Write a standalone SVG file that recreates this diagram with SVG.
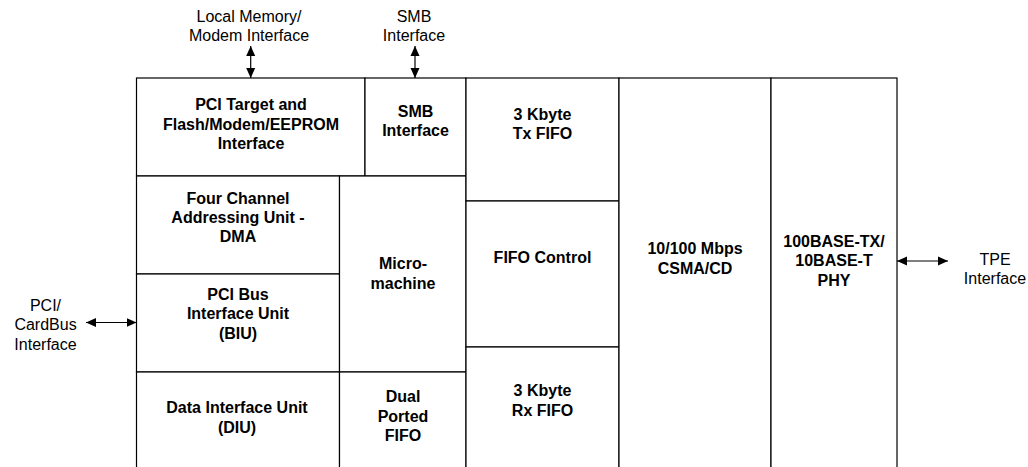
<svg xmlns="http://www.w3.org/2000/svg" width="1028" height="467" viewBox="0 0 1028 467">
<style>
.box{fill:#fff;stroke:#000;stroke-width:1.2}
.b{font-family:"Liberation Sans",Arial,sans-serif;font-size:16px;font-weight:bold;text-anchor:middle;fill:#000}
.r{font-family:"Liberation Sans",Arial,sans-serif;font-size:16px;text-anchor:middle;fill:#000}
.c{stroke:#000;stroke-width:1.2;fill:none;marker-start:url(#ah);marker-end:url(#ah)}
</style>
<defs>
<marker id="ah" viewBox="0 0 10 10" refX="10" refY="5" markerWidth="10" markerHeight="10" markerUnits="userSpaceOnUse" orient="auto-start-reverse">
<path d="M0,0.5 L10,5 L0,9.5 z" fill="#000"/>
</marker>
</defs>
<rect width="1028" height="467" fill="#fff"/>

<g id="pci-target">
<rect class="box" x="136.5" y="78" width="228.5" height="98"/>
<text class="b" x="251" y="110">PCI Target and</text>
<text class="b" x="251" y="129.5">Flash/Modem/EEPROM</text>
<text class="b" x="251" y="149">Interface</text>
</g>
<g id="smb">
<rect class="box" x="365" y="78" width="101" height="98"/>
<text class="b" x="415.5" y="116.5">SMB</text>
<text class="b" x="415.5" y="135.5">Interface</text>
</g>
<g id="dma">
<rect class="box" x="136.5" y="176" width="203" height="98"/>
<text class="b" x="238" y="203.5">Four Channel</text>
<text class="b" x="238" y="222.5">Addressing Unit -</text>
<text class="b" x="238" y="241.5">DMA</text>
</g>
<g id="biu">
<rect class="box" x="136.5" y="274" width="203" height="98"/>
<text class="b" x="238" y="300">PCI Bus</text>
<text class="b" x="238" y="319.3">Interface Unit</text>
<text class="b" x="238" y="338.5">(BIU)</text>
</g>
<g id="diu">
<rect class="box" x="136.5" y="372" width="203" height="110"/>
<text class="b" x="237" y="413.3">Data Interface Unit</text>
<text class="b" x="237" y="433">(DIU)</text>
</g>
<g id="micromachine">
<rect class="box" x="339.5" y="176" width="126.5" height="196"/>
<text class="b" x="403" y="269">Micro-</text>
<text class="b" x="403" y="288.5">machine</text>
</g>
<g id="dual-fifo">
<rect class="box" x="339.5" y="372" width="126.5" height="110"/>
<text class="b" x="403" y="402.3">Dual</text>
<text class="b" x="403" y="421.7">Ported</text>
<text class="b" x="403" y="441">FIFO</text>
</g>
<g id="tx-fifo">
<rect class="box" x="466" y="78" width="153" height="123"/>
<text class="b" x="542.5" y="120">3 Kbyte</text>
<text class="b" x="542.5" y="139">Tx FIFO</text>
</g>
<g id="fifo-control">
<rect class="box" x="466" y="201" width="153" height="146"/>
<text class="b" x="542.5" y="263.3">FIFO Control</text>
</g>
<g id="rx-fifo">
<rect class="box" x="466" y="347" width="153" height="135"/>
<text class="b" x="542.5" y="396">3 Kbyte</text>
<text class="b" x="542.5" y="415.7">Rx FIFO</text>
</g>
<g id="csma">
<rect class="box" x="619" y="78" width="152" height="404"/>
<text class="b" x="695" y="254.3">10/100 Mbps</text>
<text class="b" x="695" y="274">CSMA/CD</text>
</g>
<g id="phy">
<rect class="box" x="771" y="78" width="126" height="404"/>
<text class="b" x="834" y="246.7">100BASE-TX/</text>
<text class="b" x="834" y="266.3">10BASE-T</text>
<text class="b" x="834" y="286">PHY</text>
</g>

<g id="label-local-memory">
<text class="r" x="249" y="21.7">Local Memory/</text>
<text class="r" x="249" y="40.7">Modem Interface</text>
</g>
<g id="label-smb">
<text class="r" x="414" y="21.7">SMB</text>
<text class="r" x="414" y="40.7">Interface</text>
</g>
<g id="label-pci-cardbus">
<text class="r" x="45.5" y="310.5">PCI/</text>
<text class="r" x="45.5" y="330">CardBus</text>
<text class="r" x="45.5" y="349.5">Interface</text>
</g>
<g id="label-tpe">
<text class="r" x="995" y="264.5">TPE</text>
<text class="r" x="995" y="283.5">Interface</text>
</g>

<g id="connectors">
<line class="c" x1="250.7" y1="46" x2="250.7" y2="78"/>
<line class="c" x1="415" y1="46" x2="415" y2="78"/>
<line class="c" x1="86" y1="322.5" x2="136.5" y2="322.5"/>
<line class="c" x1="897" y1="261" x2="948" y2="261"/>
</g>
</svg>
